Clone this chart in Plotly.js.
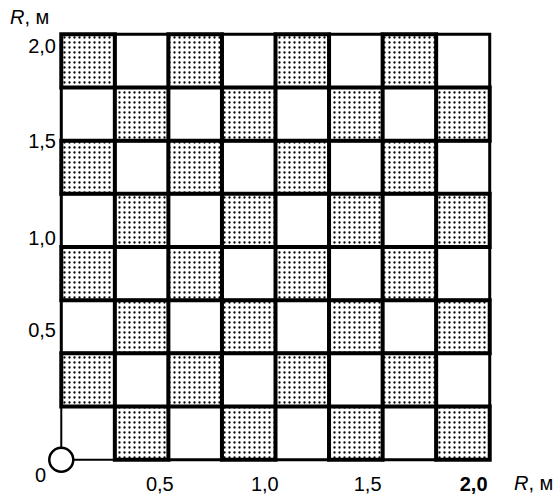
<!DOCTYPE html>
<html>
<head>
<meta charset="utf-8">
<script src="https://cdn.plot.ly/plotly-3.0.1.min.js"></script>
<style>html,body{margin:0;padding:0;background:#fff;}#chart{width:556px;height:499px;}</style>
</head>
<body>
<div id="chart"></div>
<script>
// grid boundaries in R (m)
const cellEdges = [0, 0.25, 0.5, 0.75, 1.0, 1.25, 1.5, 1.75, 2.0];
// shading per row (bottom row first), per column (left first): 1 = stippled, 0 = white
const shading = [
  [0,1,0,1,0,1,0,1],
  [1,0,1,0,1,0,1,0],
  [0,1,0,1,0,1,0,1],
  [1,0,1,0,1,0,1,0],
  [0,1,0,1,0,1,0,1],
  [1,0,1,0,1,0,1,0],
  [0,1,0,1,0,1,0,1],
  [1,0,1,0,1,0,1,0]
];
// tick labels and where they sit in the picture
const xTickVals = [0.46, 0.95, 1.43, 1.925];
const xTickText = ['0,5', '1,0', '1,5', '<b>2,0</b>'];
const yTickVals = [0.61, 1.04, 1.498, 1.944];
const yTickText = ['0,5', '1,0', '1,5', '2,0'];
// origin marker
const originX = [0];
const originY = [0];

const shaded = {x: [], base: [], y: [], w: []};
const white = {x: [], base: [], y: [], w: [], lw: []};
for (let r = 0; r < shading.length; r++) {
  for (let c = 0; c < shading[r].length; c++) {
    const x0 = cellEdges[c], x1 = cellEdges[c + 1];
    const y0 = cellEdges[r], y1 = cellEdges[r + 1];
    const t = shading[r][c] ? shaded : white;
    t.x.push((x0 + x1) / 2);
    t.base.push(y0);
    t.y.push(y1 - y0);
    t.w.push(x1 - x0);
    if (!shading[r][c]) t.lw.push(r === 0 && c === 0 ? 2 : 3);
  }
}

const font = {family: 'Liberation Sans, Arial, sans-serif', size: 20, color: '#000'};

const traces = [
  {
    type: 'bar', x: white.x, y: white.y, base: white.base, width: white.w,
    marker: {color: '#fff', line: {color: '#000', width: white.lw}},
    hoverinfo: 'skip', showlegend: false
  },
  {
    type: 'bar', x: shaded.x, y: shaded.y, base: shaded.base, width: shaded.w,
    marker: {
      color: '#fff',
      pattern: {shape: '.', fgcolor: '#000', bgcolor: '#fff', size: 5, solidity: 0.17},
      line: {color: '#000', width: 4}
    },
    hoverinfo: 'skip', showlegend: false
  },
  {
    type: 'scatter', mode: 'markers', x: originX, y: originY, cliponaxis: false,
    marker: {size: 24, color: '#fff', line: {color: '#000', width: 2.5}},
    hoverinfo: 'skip', showlegend: false
  }
];

const layout = {
  width: 556, height: 499,
  margin: {l: 57, r: 62, t: 30, b: 35},
  paper_bgcolor: '#fff', plot_bgcolor: '#fff',
  barmode: 'overlay', bargap: 0,
  showlegend: false,
  font: font,
  xaxis: {
    range: [-0.02, 2.02], showgrid: false, zeroline: false, showline: false,
    tickmode: 'array', tickvals: xTickVals, ticktext: xTickText,
    ticks: '', tickfont: font, ticklabelstandoff: 6, fixedrange: true
  },
  yaxis: {
    range: [-0.02, 2.02], showgrid: false, zeroline: false, showline: false,
    tickmode: 'array', tickvals: yTickVals, ticktext: yTickText,
    ticks: '', tickfont: font, fixedrange: true
  },
  annotations: [
    {text: '0', x: 0, y: 0, xref: 'x', yref: 'y', showarrow: false,
     xshift: -21, yshift: -15, font: font},
    {text: '<i>R</i>, м', x: 0, y: 1, xref: 'paper', yref: 'paper',
     xanchor: 'left', yanchor: 'middle', showarrow: false,
     xshift: -49, yshift: 13, font: font},
    {text: '<i>R</i>, м', x: 1, y: 0, xref: 'paper', yref: 'paper',
     xanchor: 'left', yanchor: 'middle', showarrow: false,
     xshift: 18, yshift: -19, font: font}
  ]
};

Plotly.newPlot('chart', traces, layout, {displayModeBar: false, staticPlot: true});
</script>
</body>
</html>
